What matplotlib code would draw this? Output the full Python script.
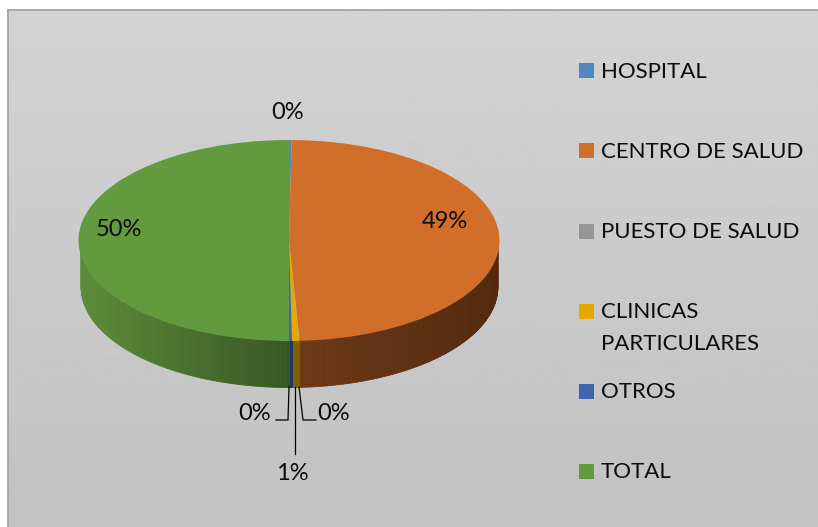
import matplotlib
matplotlib.use("Agg")
import matplotlib.pyplot as plt
from matplotlib.colors import to_rgb
from matplotlib.patches import Rectangle
import numpy as np

# datos del grafico
categorias = ["HOSPITAL", "CENTRO DE SALUD", "PUESTO DE SALUD",
              "CLINICAS\nPARTICULARES", "OTROS", "TOTAL"]
valores = [0.2, 49.0, 0.02, 0.55, 0.23, 50.0]
etiquetas = ["0%", "49%", "0%", "1%", "0%", "50%"]
colores = ["#5087bd", "#d16e29", "#969696", "#e5a800", "#3d66ad", "#639a3e"]

W, H = 818, 527
CX, CY, RX, RY = 289, 240.5, 210.5, 100.5
PROF = 46  # altura del lateral en pixeles

plt.rcParams["font.family"] = ["Lato", "DejaVu Sans"]
fig = plt.figure(figsize=(W / 100, H / 100), dpi=100)


def fx(x):
    return x / W


def fy(y):
    return 1 - y / H


# fondo con degradado
fondo = fig.add_axes([0, 0, 1, 1])
fondo.imshow(np.linspace(0.825, 0.76, 256).reshape(-1, 1), aspect="auto", cmap="gray",
             vmin=0, vmax=1, extent=(8, W, H, 10))
fondo.set_xlim(0, W)
fondo.set_ylim(H, 0)
fondo.axis("off")
fondo.plot([8, 8], [10, H], color="#a3a3a3", lw=1.3)
fondo.plot([8, W], [10, 10], color="#a3a3a3", lw=1.3)

# tarta: ejes escalados para que el circulo salga como elipse
ax = fig.add_axes([0, 0, 1, 1])
ax.patch.set_alpha(0)
ax.pie(valores, colors=colores, startangle=90, counterclock=False, radius=1,
       wedgeprops={"linewidth": 0})
ax.set_aspect("auto")
ax.set_xlim((0 - CX) / RX, (W - CX) / RX)
ax.set_ylim((CY - H) / RY, CY / RY)
ax.set_axis_off()

# lateral: tiras verticales con el color segun la posicion
prof = PROF / RY
acum = np.cumsum([0] + valores) / sum(valores)
lateral = {0: ("#2f5070", "#2f5070"), 1: ("#6e3a18", "#52290f"), 2: ("#6e3a18", "#6e3a18"),
           3: ("#806000", "#806000"), 4: ("#1f3564", "#1f3564"), 5: ("#385723", "#5d8c3b")}
for i in range(len(valores)):
    # fraccion de vuelta desde arriba en sentido horario; solo se ve de 0.25 a 0.75
    t0, t1 = max(acum[i], 0.25), min(acum[i + 1], 0.75)
    if t1 <= t0:
        continue
    n = max(2, int((t1 - t0) * 300))
    bordes = np.linspace(t0, t1, n + 1)
    c_a = np.array(to_rgb(lateral[i][0]))
    c_b = np.array(to_rgb(lateral[i][1]))
    for j in range(n):
        a = np.linspace(bordes[j], bordes[j + 1], 8)
        x = np.sin(2 * np.pi * a) * 0.99
        y = np.cos(2 * np.pi * a)
        f = abs(x.mean())
        ax.fill_between(x, y + 0.02, y - prof, color=c_a + (c_b - c_a) * f, lw=0.6,
                        antialiased=False, zorder=0.5)

# etiquetas de datos
pos_etiquetas = [(288, 113), (445, 222), (255, 413), (292, 474), (334, 413), (119, 229)]
for txt, (x, y) in zip(etiquetas, pos_etiquetas):
    fig.text(fx(x), fy(y), txt, fontsize=17, color="#0c0c0c", ha="center", va="center")

# lineas guia
for xs, ys in [([289, 288, 276], [387, 420, 420]),
               ([299, 303, 316], [387, 420, 420]),
               ([295, 295], [387, 454])]:
    fig.add_artist(plt.Line2D([fx(v) for v in xs], [fy(v) for v in ys], color="black", lw=0.9))

# leyenda
pos_leyenda = [70, 150, 231, 311, 391, 471]
for nombre, color, y in zip(categorias, colores, pos_leyenda):
    fig.add_artist(Rectangle((fx(579), fy(y + 7.5)), 15 / W, 15 / H, color=color, lw=0,
                             transform=fig.transFigure))
    lineas = nombre.split("\n")
    for k, linea in enumerate(lineas):
        fig.text(fx(601), fy(y + 1.5 + k * 32), linea, fontsize=16, color="#0c0c0c",
                 ha="left", va="center")

fig.savefig("out.png", dpi=100)
